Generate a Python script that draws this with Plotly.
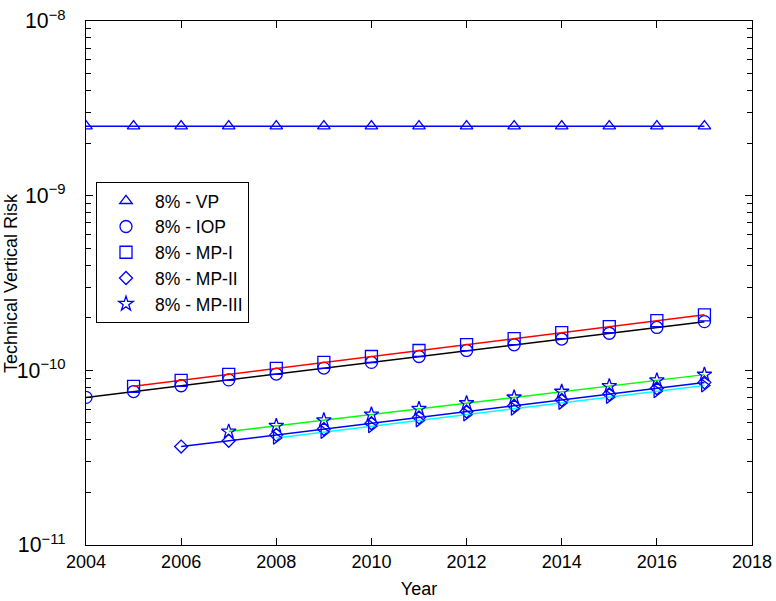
import plotly.graph_objects as go

# Technical vertical risk projections (8% annual traffic growth)
years_vp = [2004, 2005, 2006, 2007, 2008, 2009, 2010, 2011, 2012, 2013, 2014, 2015, 2016, 2017]
risk_vp = [2.5e-9, 2.5e-9, 2.5e-9, 2.5e-9, 2.5e-9, 2.5e-9, 2.5e-9,
           2.5e-9, 2.5e-9, 2.5e-9, 2.5e-9, 2.5e-9, 2.5e-9, 2.5e-9]

years_iop = [2004, 2005, 2006, 2007, 2008, 2009, 2010, 2011, 2012, 2013, 2014, 2015, 2016, 2017]
risk_iop = [7.00e-11, 7.56e-11, 8.16e-11, 8.82e-11, 9.52e-11, 1.03e-10, 1.11e-10,
            1.20e-10, 1.30e-10, 1.40e-10, 1.51e-10, 1.63e-10, 1.76e-10, 1.90e-10]

years_mp1 = [2005, 2006, 2007, 2008, 2009, 2010, 2011, 2012, 2013, 2014, 2015, 2016, 2017]
risk_mp1 = [8.10e-11, 8.76e-11, 9.48e-11, 1.026e-10, 1.110e-10, 1.200e-10, 1.299e-10,
            1.405e-10, 1.520e-10, 1.645e-10, 1.780e-10, 1.925e-10, 2.08e-10]

years_mp2 = [2006, 2007, 2008, 2009, 2010, 2011, 2012, 2013, 2014, 2015, 2016, 2017]
risk_mp2 = [3.66e-11, 3.95e-11, 4.27e-11, 4.61e-11, 4.98e-11, 5.38e-11,
            5.81e-11, 6.27e-11, 6.77e-11, 7.31e-11, 7.90e-11, 8.53e-11]

years_mp3 = [2007, 2008, 2009, 2010, 2011, 2012, 2013, 2014, 2015, 2016, 2017]
risk_mp3 = [4.46e-11, 4.81e-11, 5.18e-11, 5.59e-11, 6.02e-11, 6.49e-11,
            7.00e-11, 7.55e-11, 8.13e-11, 8.77e-11, 9.45e-11]

years_mp2b = [2008, 2009, 2010, 2011, 2012, 2013, 2014, 2015, 2016, 2017]
risk_mp2b = [4.10e-11, 4.43e-11, 4.78e-11, 5.16e-11, 5.57e-11,
             6.02e-11, 6.50e-11, 7.02e-11, 7.58e-11, 8.18e-11]

x_ticks = [2004, 2006, 2008, 2010, 2012, 2014, 2016, 2018]

MARK = "#0000ff"
FONT = "Liberation Sans, Arial, sans-serif"
M_L, M_R = 86, 24

series = [
    # (x, y, line colour, marker symbol, marker size, legend label)
    (years_vp, risk_vp, "#0000ff", "triangle-up-open", 11, "8% - VP"),
    (years_iop, risk_iop, "#000000", "circle-open", 12, "8% - IOP"),
    (years_mp1, risk_mp1, "#ff0000", "square-open", 12, "8% - MP-I"),
    (years_mp2, risk_mp2, "#0000ff", "diamond-open", 10, "8% - MP-II"),
    (years_mp3, risk_mp3, "#00ff00", "star-open", 11, "8% - MP-III"),
    (years_mp2b, risk_mp2b, "#00ffff", "triangle-right-open", 11, None),
]

fig = go.Figure()

for x, y, lc, sym, sz, label in series:
    fig.add_trace(go.Scatter(
        x=x, y=y, mode="lines",
        line=dict(color=lc, width=1.5),
        showlegend=False, hoverinfo="skip",
    ))
    fig.add_trace(go.Scatter(
        x=x, y=y, mode="markers",
        marker=dict(symbol=sym, size=sz, color=MARK, line=dict(color=MARK, width=1.3)),
        name=label if label else "",
        showlegend=label is not None,
    ))

plot_w = 776 - M_L - M_R

fig.update_layout(
    width=776, height=601,
    margin=dict(l=M_L, r=M_R, t=21, b=56),
    paper_bgcolor="white", plot_bgcolor="white",
    font=dict(family=FONT, size=18, color="black"),
    showlegend=True,
    legend=dict(
        x=0.015, y=0.693, xanchor="left", yanchor="top",
        bordercolor="black", borderwidth=1, bgcolor="white",
        font=dict(family=FONT, size=17.5, color="black"),
        itemwidth=48, tracegroupgap=0,
    ),
    annotations=[dict(
        text="Technical Vertical Risk", textangle=-90,
        xref="paper", yref="paper", x=-(M_L - 11) / plot_w, y=0.5,
        xanchor="center", yanchor="middle", showarrow=False,
        font=dict(family=FONT, size=18, color="black"),
    )],
)

fig.update_xaxes(
    range=[2004, 2018], tickvals=x_ticks, ticktext=[str(v) for v in x_ticks],
    showgrid=False, zeroline=False, automargin=False,
    showline=True, linecolor="black", linewidth=1, mirror="ticks",
    ticks="inside", ticklen=7, tickcolor="black",
    title=dict(text="Year", standoff=11, font=dict(family=FONT, size=18)),
)

fig.update_yaxes(
    type="log", range=[-11, -8], dtick=1, exponentformat="power",
    showgrid=False, zeroline=False, automargin=False,
    showline=True, linecolor="black", linewidth=1, mirror="ticks",
    ticks="inside", ticklen=7, tickcolor="black", ticklabelstandoff=16,
    tickfont=dict(family=FONT, size=17, color="black"),
    minor=dict(ticks="inside", ticklen=5, tickcolor="black", dtick="D1", showgrid=False),
)

fig.write_html("out.html")
